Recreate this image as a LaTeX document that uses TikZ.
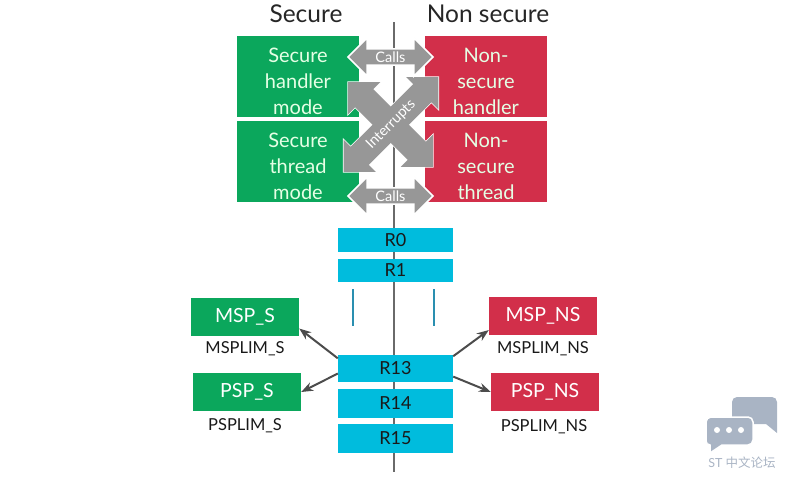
\documentclass[tikz,border=0pt]{standalone}
\usepackage{fontspec}
\setmainfont{Lato}
\newfontfamily\cjk{Noto Sans CJK SC}
\usepackage{xcolor}
\usetikzlibrary{arrows.meta,shapes.arrows}
\definecolor{stgreen}{HTML}{0BA75C}
\definecolor{stred}{HTML}{D22F4A}
\definecolor{stcyan}{HTML}{00BCDD}
\definecolor{stgrey}{HTML}{979797}
\definecolor{stmark}{HTML}{A9B4C4}
\definecolor{stteal}{HTML}{2A8FB0}

\begin{document}
\begin{tikzpicture}[x=1pt, y=-1pt, >=Stealth,
  mode/.style={inner sep=0pt,minimum width=122pt,minimum height=81pt},
  modetext/.style={align=center,inner sep=0pt,text=white!90!green,font=\fontsize{20}{26}\selectfont,yshift=-4.5pt},
  regbox/.style={fill=stcyan,inner sep=0pt,minimum width=115pt,font=\fontsize{18}{20}\selectfont,text=black!90},
  stack/.style={inner sep=0pt,minimum width=108pt,minimum height=38pt,text=white!90,font=\fontsize{19.5}{20}\selectfont},
  limit/.style={inner sep=0pt,font=\fontsize{16.5}{18}\selectfont,text=black!90,yshift=-1.5pt},
  head/.style={inner sep=0pt,font=\fontsize{24.5}{26}\selectfont,text=black!85},
  cross/.style={double arrow,fill=stgrey,draw=white,line width=1.5pt,text=white!85,inner sep=2pt,
    double arrow head extend=11pt,minimum width=38pt,font=\fontsize{14.5}{15}\selectfont},
  crossx/.style={cross,inner sep=5pt,double arrow head extend=10pt,minimum width=44pt,text height=11pt,text depth=3pt},
  link/.style={->,draw=black!70,line width=2pt}]
  \useasboundingbox (0,0) rectangle (785,479);
  \draw[stgrey!70!black,line width=1.5pt] (394,22) -- (394,472);
  \node[head] (sec) at (306,14) {Secure};
  \node[head] (nsec) at (488,14) {Non secure};
  \node[mode,fill=stgreen] (sh) at (298,76.5) {};
  \node[mode,fill=stgreen] (st) at (298,161.5) {};
  \node[mode,fill=stred] (nh) at (486,76.5) {};
  \node[mode,fill=stred] (nt) at (486,161.5) {};
  \node[modetext] (shtext) at (sh) {Secure\\handler\\mode};
  \node[modetext] (sttext) at (st) {Secure\\thread\\mode};
  \node[modetext] (nhtext) at (nh) {Non-\\secure\\handler};
  \node[modetext] (nttext) at (nt) {Non-\\secure\\thread};
  \node[crossx,minimum height=120pt,rotate=-45] (inta) at (390.5,124.5) {};
  \node[crossx,minimum height=134pt,rotate=45] (intb) at (391,124.5) {};
  \node[crossx,draw=none,minimum height=120pt,rotate=-45] (intc) at (inta) {};
  \node[crossx,draw=none,minimum height=134pt,rotate=45] (intd) at (intb) {};
  \node[inner sep=0pt,text=white!85,font=\fontsize{14.5}{15}\selectfont,rotate=45] (inttext) at (intb) {Interrupts};
  \node[cross,minimum height=85pt] (ca) at (390.5,57) {Calls};
  \node[cross,minimum height=85pt] (cb) at (390.5,196) {Calls};
  \foreach \n/\t/\y/\h in {r0/R0/240/24, r1/R1/270.5/23, r13/R13/368.5/27, r14/R14/403.5/29, r15/R15/438.5/29} {
    \node[regbox,minimum height=\h pt] (\n) at (395.5,\y) {\t};
  }
  \coordinate (la) at (353,289);
  \coordinate (lb) at (353,326);
  \coordinate (lc) at (434,289);
  \coordinate (ld) at (434,326);
  \draw[stteal,line width=2pt] (la) -- (lb);
  \draw[stteal,line width=2pt] (lc) -- (ld);
  \node[stack,fill=stgreen] (msps) at (245,317) {MSP\_S};
  \node[stack,fill=stgreen] (psps) at (247,392) {PSP\_S};
  \node[stack,fill=stred] (mspn) at (543,315.5) {MSP\_NS};
  \node[stack,fill=stred] (pspn) at (545,392) {PSP\_NS};
  \node[limit] (lms) at (245,347) {MSPLIM\_S};
  \node[limit] (lps) at (245,424) {PSPLIM\_S};
  \node[limit] (lmn) at (543,347) {MSPLIM\_NS};
  \node[limit] (lpn) at (544,425) {PSPLIM\_NS};
  \draw[link] (r13.170) -- (msps.-12);
  \draw[link] (r13.185) -- (psps.east);
  \draw[link] (r13.12) -- (mspn.195);
  \draw[link] (r13.-8) -- (pspn.west);
  \fill[stmark] (737,397) -- (772,397) arc (-90:0:5) -- (777,433) -- (766,424) -- (732,424) -- (732,402) arc (180:270:5) -- cycle;
  \fill[stmark,draw=white,line width=1.5pt] (711,417) -- (748,417) arc (-90:0:5) -- (753,440) arc (0:90:5) -- (722,445) -- (710,453) -- (710,445) arc (90:180:4) -- (706,422) arc (180:270:5) -- cycle;
  \foreach \x in {717,729,741} { \fill[white] (\x,430) circle (3pt); }
  \node[inner sep=0pt,text=stmark,font=\fontsize{12.5}{14}\selectfont] (mark) at (742,463) {ST {\cjk 中文论坛}};
\end{tikzpicture}
\end{document}
